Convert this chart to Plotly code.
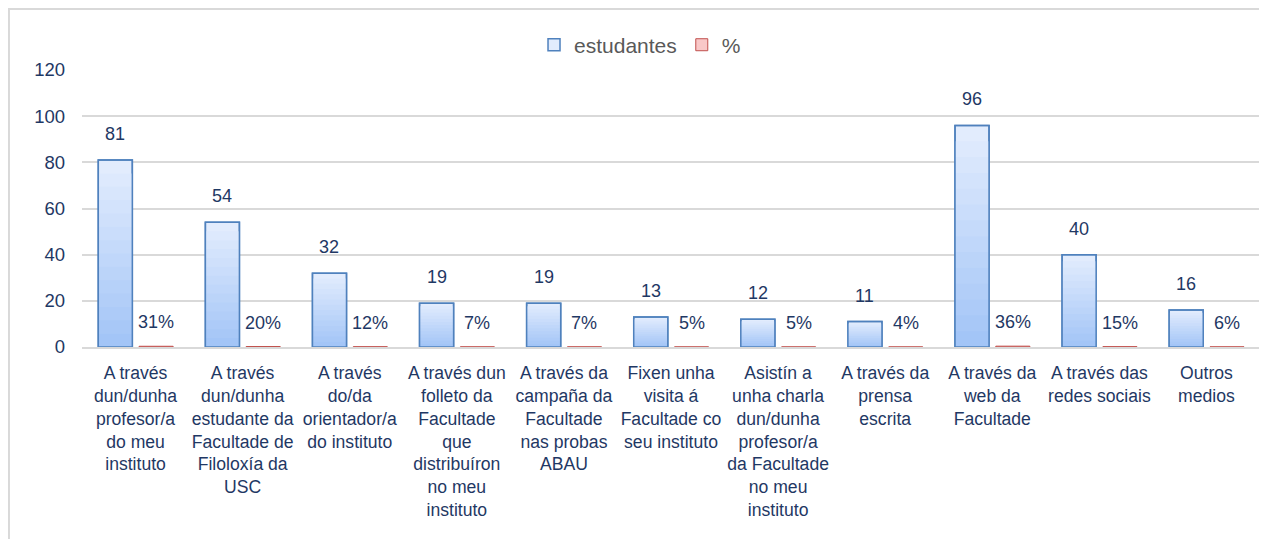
import plotly.graph_objects as go

categories = [
    "A través<br>dun/dunha<br>profesor/a<br>do meu<br>instituto",
    "A través<br>dun/dunha<br>estudante da<br>Facultade de<br>Filoloxía da<br>USC",
    "A través<br>do/da<br>orientador/a<br>do instituto",
    "A través dun<br>folleto da<br>Facultade<br>que<br>distribuíron<br>no meu<br>instituto",
    "A través da<br>campaña da<br>Facultade<br>nas probas<br>ABAU",
    "Fixen unha<br>visita á<br>Facultade co<br>seu instituto",
    "Asistín a<br>unha charla<br>dun/dunha<br>profesor/a<br>da Facultade<br>no meu<br>instituto",
    "A través da<br>prensa<br>escrita",
    "A través da<br>web da<br>Facultade",
    "A través das<br>redes sociais",
    "Outros<br>medios",
]
students = [81, 54, 32, 19, 19, 13, 12, 11, 96, 40, 16]
percent = [0.31, 0.20, 0.12, 0.07, 0.07, 0.05, 0.05, 0.04, 0.36, 0.15, 0.06]
percent_labels = ["31%", "20%", "12%", "7%", "7%", "5%", "5%", "4%", "36%", "15%", "6%"]
y_ticks = [0, 20, 40, 60, 80, 100, 120]

NAVY = "#1F3864"
FONT = "Liberation Sans"
BLUE_OFF, RED_OFF, BAR_W = -0.348, 0.033, 0.318

top_rgb = (226, 236, 253)
bot_rgb = (163, 197, 247)

fig = go.Figure()

N = 14
for k in range(N):
    frac = (N - k) / N
    t = k / (N - 1)
    c = tuple(round(top_rgb[i] + (bot_rgb[i] - top_rgb[i]) * t) for i in range(3))
    fig.add_trace(go.Bar(
        x=categories, y=[v * frac for v in students],
        offset=BLUE_OFF, width=BAR_W,
        marker=dict(color="rgb(%d,%d,%d)" % c,
                    line=dict(color="#4F81BD", width=1.5 if k == 0 else 0)),
        name="estudantes", showlegend=(k == 0), hoverinfo="skip",
    ))

fig.add_trace(go.Bar(
    x=categories, y=students, offset=BLUE_OFF, width=BAR_W,
    marker=dict(color="rgba(0,0,0,0)", line=dict(color="#4F81BD", width=1.5)),
    showlegend=False, hoverinfo="skip",
))

fig.add_trace(go.Bar(
    x=categories, y=percent, offset=RED_OFF, width=BAR_W,
    marker=dict(color="#F9C8C8", line=dict(color="#C0504D", width=1)),
    name="%", hoverinfo="skip",
))

annotations = []
for i, (v, p, pl) in enumerate(zip(students, percent, percent_labels)):
    annotations.append(dict(
        x=i + BLUE_OFF + BAR_W / 2, y=v, xref="x", yref="y", text=str(v),
        showarrow=False, yanchor="bottom", yshift=14,
        font=dict(family=FONT, size=18, color=NAVY)))
    annotations.append(dict(
        x=i + RED_OFF + BAR_W / 2, y=p, xref="x", yref="y", text=pl,
        showarrow=False, yanchor="bottom", yshift=12,
        font=dict(family=FONT, size=18, color=NAVY)))

fig.update_layout(
    width=1259, height=531,
    margin=dict(l=74, r=7, t=62, b=192),
    paper_bgcolor="white", plot_bgcolor="white",
    barmode="overlay",
    font=dict(family=FONT, color=NAVY),
    annotations=annotations,
    legend=dict(orientation="h", x=0.4737, xanchor="center", y=1.09, yanchor="middle",
                font=dict(family=FONT, size=21, color="#595959"),
                bgcolor="rgba(0,0,0,0)"),
    shapes=[dict(type="rect", xref="paper", yref="paper",
                 x0=-0.0620, x1=1.0008, y0=-0.72, y1=1.2202,
                 line=dict(color="#D9D9D9", width=2), fillcolor="rgba(0,0,0,0)",
                 layer="below")],
    xaxis=dict(type="category", categoryarray=categories, range=[-0.5, 10.5],
               showline=True, linecolor="#D9D9D9", linewidth=1.5, ticks="",
               showgrid=False, automargin=False, ticklabelstandoff=9,
               tickfont=dict(family=FONT, size=17.6, color=NAVY)),
    yaxis=dict(range=[0, 120], tickvals=y_ticks, showgrid=True, gridcolor="#D9D9D9",
               gridwidth=1.5, zeroline=False, showline=False, automargin=False,
               ticklabelstandoff=16,
               tickfont=dict(family=FONT, size=18.5, color=NAVY)),
)

fig.write_html("out.html")
